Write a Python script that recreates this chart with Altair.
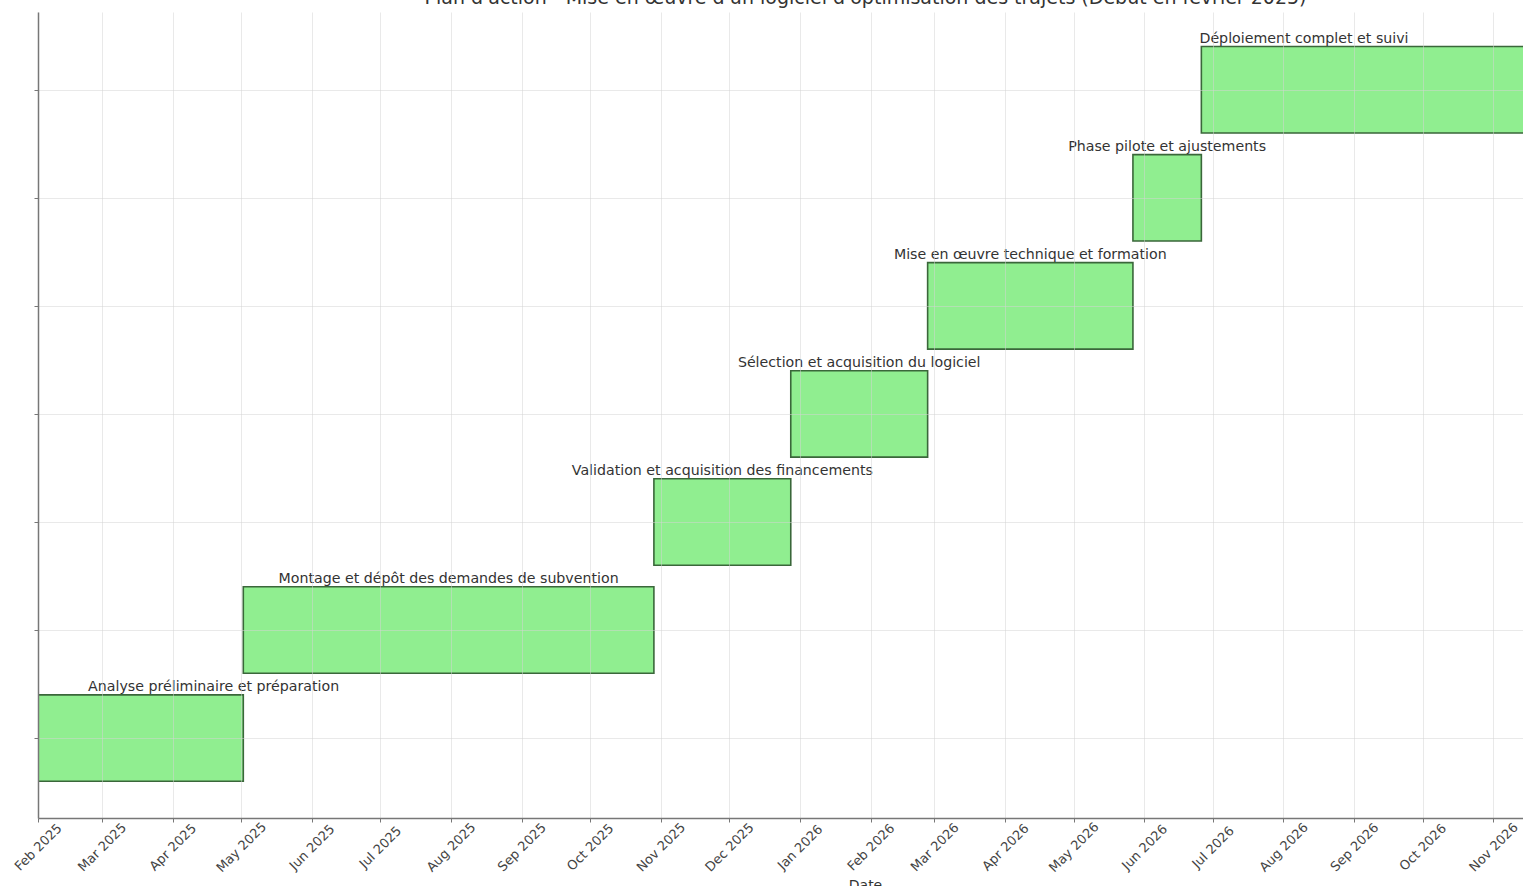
import altair as alt
import pandas as pd

# ---- data ----
tasks = [
    "Analyse préliminaire et préparation",
    "Montage et dépôt des demandes de subvention",
    "Validation et acquisition des financements",
    "Sélection et acquisition du logiciel",
    "Mise en œuvre technique et formation",
    "Phase pilote et ajustements",
    "Déploiement complet et suivi",
]
starts = ["2025-02-01", "2025-05-02", "2025-10-29", "2025-12-28",
          "2026-02-26", "2026-05-27", "2026-06-26"]
ends = ["2025-05-02", "2025-10-29", "2025-12-28", "2026-02-26",
        "2026-05-27", "2026-06-26", "2026-12-23"]
label_at = ["2025-04-19", "2025-07-31", "2025-11-28", "2026-01-27",
            "2026-04-12", "2026-06-11", "2026-08-10"]

tick_months = [(2025, m) for m in range(2, 13)] + [(2026, m) for m in range(1, 12)]

title_text = "Plan d'action - Mise en œuvre d'un logiciel d'optimisation des trajets (Début en février 2025)"

df = pd.DataFrame({
    "task": tasks,
    "order": list(range(len(tasks))),
    "start": [s + "T00:00:00" for s in starts],
    "end": [e + "T00:00:00" for e in ends],
    "label_at": [d + "T00:00:00" for d in label_at],
})

FONT = "DejaVu Sans"
W, H = 1485, 806

xscale = alt.Scale(domain=[alt.DateTime(year=2025, month=2, date=1),
                           alt.DateTime(year=2026, month=11, date=14)])
yscale = alt.Scale(domain=[-0.74, 6.72], nice=False, zero=False)

xaxis = alt.Axis(
    values=[alt.DateTime(year=y, month=m, date=1) for y, m in tick_months],
    format="%b %Y", labelAngle=315, labelAlign="center", labelBaseline="middle",
    labelPadding=25, labelFontSize=13, labelFont=FONT, labelColor="#444444",
    labelOverlap=False, labelFlush=False,
    tickSize=4, tickColor="#777777", domainColor="#777777", domainWidth=1.5,
    grid=True, gridColor="#d4d4d4", gridOpacity=0.5, zindex=1,
    title="Date", titleFont=FONT, titleFontSize=14, titleFontWeight="normal",
    titleColor="#333333", titleX=827, titleY=60, titleAlign="center",
    titleBaseline="top",
)
yaxis = alt.Axis(
    values=list(range(len(tasks))), labels=False, tickSize=4, tickColor="#777777",
    domainColor="#777777", domainWidth=1.5, grid=True, gridColor="#d4d4d4",
    gridOpacity=0.5, zindex=1, title=None,
)

base = alt.Chart(df).transform_calculate(
    y0="datum.order - 0.4", y1="datum.order + 0.4"
)

bars = base.mark_rect(
    color="#90ee90", stroke="#3a673a", strokeWidth=1.6, clip=True
).encode(
    x=alt.X("start:T", scale=xscale, axis=xaxis),
    x2="end:T",
    y=alt.Y("y0:Q", scale=yscale, axis=yaxis),
    y2="y1:Q",
)

labels = base.mark_text(
    font=FONT, fontSize=14.2, color="#333333", align="center",
    baseline="alphabetic", dy=-4,
).encode(
    x=alt.X("label_at:T", scale=xscale),
    y=alt.Y("y1:Q", scale=yscale),
    text="task:N",
)

chart = alt.layer(bars, labels).properties(
    width=W, height=H,
    autosize=alt.AutoSizeParams(type="none"),
    padding={"left": 38, "top": 12, "right": 0, "bottom": 68},
    title=alt.TitleParams(
        text=title_text, font=FONT, fontSize=19, fontWeight="normal",
        color="#333333", anchor="middle", dx=85, dy=11, offset=0,
        baseline="alphabetic",
    ),
).configure(
    background="white",
    view=alt.ViewConfig(strokeOpacity=0),
)

chart.save("out.html", embed_options={"renderer": "svg", "actions": False})
